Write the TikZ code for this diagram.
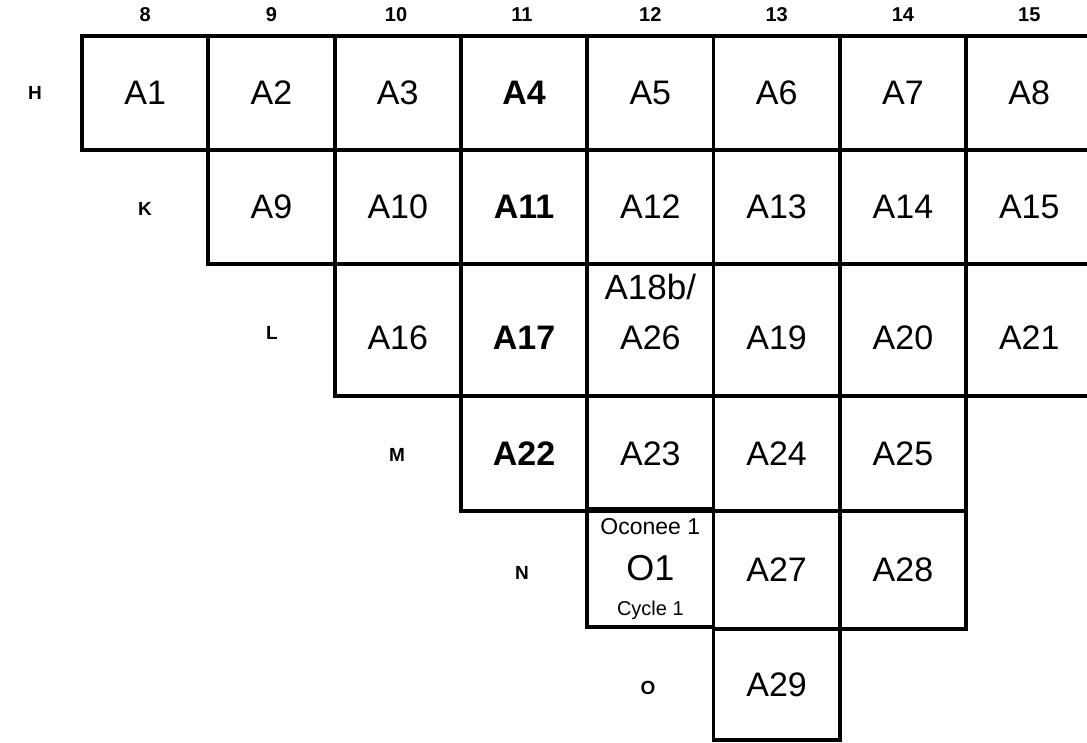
\documentclass[tikz,border=0pt]{standalone}
\usepackage{fontspec}
\setmainfont{Liberation Sans}
\begin{document}
\begin{tikzpicture}[x=1pt,y=-1pt,
  cell/.style={draw, line width=3.8pt, inner sep=0pt, minimum width=126.3pt,
    font=\fontsize{34}{40}\selectfont},
  boldcell/.style={cell, font=\fontsize{34}{40}\selectfont\bfseries},
  rowH/.style={minimum height=114pt},
  rowK/.style={minimum height=114pt},
  rowL/.style={minimum height=132pt, text height=38pt, text depth=0pt},
  rowM/.style={minimum height=115pt},
  rowN/.style={minimum height=118pt},
  rowO/.style={minimum height=111pt},
  colnum/.style={font=\fontsize{20}{24}\selectfont\bfseries},
  rowlab/.style={font=\fontsize{19}{22}\selectfont\bfseries},
  small/.style={inner sep=0pt}
]
\useasboundingbox (0,0) rectangle (1087,742);
\clip (0,0) rectangle (1087,742);
% column numbers
\node[colnum] (c8)  at (145.15,15) {8};
\node[colnum] (c9)  at (271.45,15) {9};
\node[colnum] (c10) at (396,15) {10};
\node[colnum] (c11) at (522,15) {11};
\node[colnum] (c12) at (650.35,15) {12};
\node[colnum] (c13) at (776.65,15) {13};
\node[colnum] (c14) at (902.95,15) {14};
\node[colnum] (c15) at (1029.25,15) {15};
% row labels
\node[rowlab] (rH) at (35,93) {H};
\node[rowlab] (rK) at (145,209) {K};
\node[rowlab] (rL) at (272,333) {L};
\node[rowlab] (rM) at (397,455) {M};
\node[rowlab] (rN) at (522,573) {N};
\node[rowlab] (rO) at (648,688) {O};
% row H
\node[cell,rowH] (A1) at (145.15,93) {A1};
\node[cell,rowH] (A2) at (271.45,93) {A2};
\node[cell,rowH] (A3) at (397.75,93) {A3};
\node[boldcell,rowH] (A4) at (524.05,93) {A4};
\node[cell,rowH] (A5) at (650.35,93) {A5};
\node[cell,rowH] (A6) at (776.65,93) {A6};
\node[cell,rowH] (A7) at (902.95,93) {A7};
\node[cell,rowH] (A8) at (1029.25,93) {A8};
% row K
\node[cell,rowK] (A9) at (271.45,207) {A9};
\node[cell,rowK] (A10) at (397.75,207) {A10};
\node[boldcell,rowK] (A11) at (524.05,207) {A11};
\node[cell,rowK] (A12) at (650.35,207) {A12};
\node[cell,rowK] (A13) at (776.65,207) {A13};
\node[cell,rowK] (A14) at (902.95,207) {A14};
\node[cell,rowK] (A15) at (1029.25,207) {A15};
% row L
\node[cell,rowL] (A16) at (397.75,330) {A16};
\node[boldcell,rowL] (A17) at (524.05,330) {A17};
\node[cell,rowL] (A26) at (650.35,330) {A26};
\node[cell,rowL] (A19) at (776.65,330) {A19};
\node[cell,rowL] (A20) at (902.95,330) {A20};
\node[cell,rowL] (A21) at (1029.25,330) {A21};
\node[small, font=\fontsize{35}{40}\selectfont] (A18b) at (650.35,287) {A18b/};
% row M
\node[boldcell,rowM] (A22) at (524.05,453.5) {A22};
\node[cell,rowM] (A23) at (650.35,453.5) {A23};
\node[cell,rowM] (A24) at (776.65,453.5) {A24};
\node[cell,rowM] (A25) at (902.95,453.5) {A25};
% row N
\node[cell,rowN, font=\fontsize{36}{40}\selectfont] (O1) at (650.35,568) {O1};
\node[cell,rowN] (A27) at (776.65,570) {A27};
\node[cell,rowN] (A28) at (902.95,570) {A28};
\node[small, font=\fontsize{23}{26}\selectfont] (oconee) at (650.35,527) {Oconee 1};
\node[small, font=\fontsize{20}{22}\selectfont] (cycle) at (650.35,610) {Cycle 1};
% row O
\node[cell,rowO] (A29) at (776.65,684.5) {A29};
\end{tikzpicture}
\end{document}
